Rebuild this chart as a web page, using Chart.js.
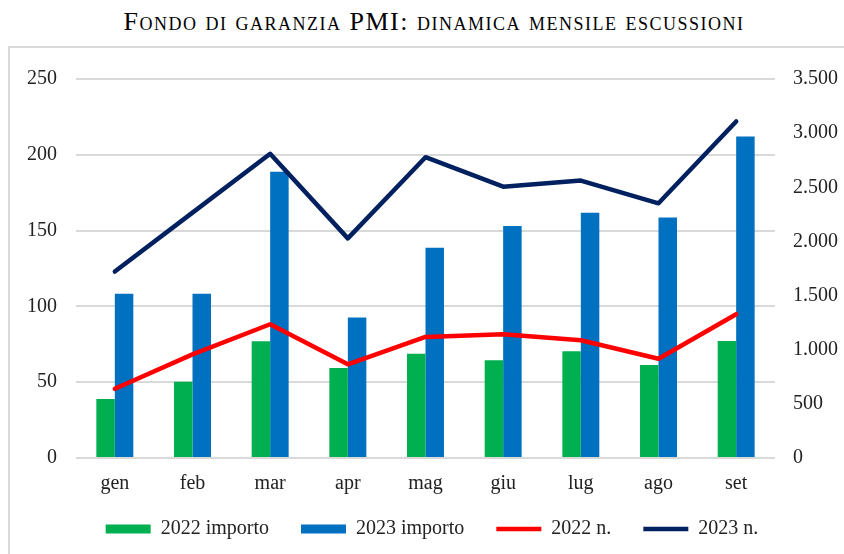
<!DOCTYPE html>
<html lang="it">
<head>
<meta charset="utf-8">
<script src="https://cdn.jsdelivr.net/npm/chart.js@4.4.0/dist/chart.umd.min.js"></script>
<style>
  html, body { margin: 0; padding: 0; width: 844px; height: 554px; overflow: hidden; background: #fff; }
  #titolo {
    position: absolute; left: 12px; top: 6px; width: 844px; height: 32px;
    text-align: center; font-family: 'Liberation Serif', 'Times New Roman', serif;
    font-size: 26px; line-height: 32px; font-variant: small-caps; letter-spacing: 1.5px; color: #000;
  }
  #riquadro {
    position: absolute; left: 8px; top: 46px; width: 850px; height: 520px;
    border: 2px solid #d9d9d9; box-sizing: border-box;
  }
  #contenitore { position: absolute; left: 0; top: 46px; width: 862px; height: 513px; }
</style>
</head>
<body>
<div id="titolo">Fondo di garanzia PMI: dinamica mensile escussioni</div>
<div id="riquadro"></div>
<div id="contenitore"><canvas id="grafico"></canvas></div>
<script>
// Dati
const mesi = ['gen', 'feb', 'mar', 'apr', 'mag', 'giu', 'lug', 'ago', 'set'];
const importo2022 = [39, 50.3, 77, 59.3, 68.8, 64.4, 70.4, 61.3, 77.2];
const importo2023 = [108.3, 108.3, 188.8, 92.6, 138.7, 153, 161.8, 158.7, 212.1];
const numero2022 = [639, 957, 1235, 865, 1118, 1142, 1087, 917, 1328];
const numero2023 = [1722, 2266, 2809, 2028, 2778, 2506, 2562, 2352, 3108];

const fontSerif = "'Liberation Serif', 'Times New Roman', serif";
const coloreTesto = '#222';

// separatore delle migliaia con il punto
function formattaMigliaia(v) {
    return String(v).replace(/\B(?=(\d{3})+(?!\d))/g, '.');
}

// alza un po' la legenda dopo il layout
const spostaLegenda = {
    id: 'spostaLegenda',
    afterLayout(chart) {
        chart.legend.top -= 10;
        chart.legend.bottom -= 10;
    }
};

const ctx = document.getElementById('grafico').getContext('2d');

new Chart(ctx, {
    type: 'bar',
    data: {
        labels: mesi,
        datasets: [
            {
                label: '2022 importo',
                data: importo2022,
                backgroundColor: '#00b050',
                borderWidth: 0,
                yAxisID: 'y',
                order: 1,
                pointStyle: 'rect'
            },
            {
                label: '2023 importo',
                data: importo2023,
                backgroundColor: '#0070c0',
                borderWidth: 0,
                yAxisID: 'y',
                order: 1,
                pointStyle: 'rect'
            },
            {
                type: 'line',
                label: '2022 n.',
                data: numero2022,
                borderColor: '#ff0000',
                backgroundColor: '#ff0000',
                borderWidth: 4.5,
                borderCapStyle: 'round',
                borderJoinStyle: 'round',
                pointRadius: 0,
                pointStyle: 'line',
                yAxisID: 'y1',
                order: 0
            },
            {
                type: 'line',
                label: '2023 n.',
                data: numero2023,
                borderColor: '#002060',
                backgroundColor: '#002060',
                borderWidth: 4.5,
                borderCapStyle: 'round',
                borderJoinStyle: 'round',
                pointRadius: 0,
                pointStyle: 'line',
                yAxisID: 'y1',
                order: 0
            }
        ]
    },
    plugins: [spostaLegenda],
    options: {
        responsive: true,
        maintainAspectRatio: false,
        animation: false,
        datasets: {
            bar: { categoryPercentage: 0.476, barPercentage: 1 }
        },
        layout: {
            padding: { left: 8, right: 6, top: 33, bottom: 0 }
        },
        plugins: {
            title: { display: false },
            tooltip: { enabled: false },
            legend: {
                position: 'bottom',
                labels: {
                    usePointStyle: true,
                    pointStyleWidth: 45,
                    boxHeight: 9,
                    padding: 32,
                    color: coloreTesto,
                    font: { family: fontSerif, size: 20 },
                    sort: (a, b) => a.datasetIndex - b.datasetIndex
                }
            }
        },
        scales: {
            x: {
                grid: { display: false, drawTicks: false },
                border: { display: false },
                ticks: {
                    padding: 14,
                    color: coloreTesto,
                    font: { family: fontSerif, size: 20 }
                },
                // toglie lo spazio vuoto sotto le etichette
                afterFit: function(scale) {
                    scale.height -= 13;
                }
            },
            y: {
                position: 'left',
                min: 0,
                max: 250,
                grid: { color: '#d9d9d9', lineWidth: 2, drawTicks: false },
                border: { display: false },
                ticks: {
                    stepSize: 50,
                    padding: 19,
                    color: coloreTesto,
                    font: { family: fontSerif, size: 20 }
                }
            },
            y1: {
                position: 'right',
                min: 0,
                max: 3500,
                grid: { drawOnChartArea: false, drawTicks: false },
                border: { display: false },
                ticks: {
                    stepSize: 500,
                    padding: 18,
                    color: coloreTesto,
                    font: { family: fontSerif, size: 20 },
                    callback: v => formattaMigliaia(v)
                }
            }
        }
    }
});
</script>
</body>
</html>
